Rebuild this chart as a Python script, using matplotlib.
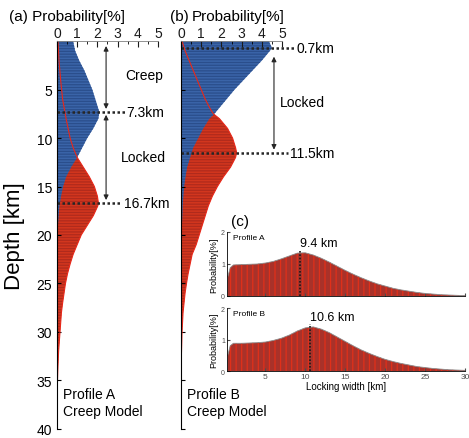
import matplotlib
matplotlib.use("Agg")
import matplotlib.pyplot as plt

plt.rcParams['font.family'] = ['Liberation Sans', 'DejaVu Sans']
plt.rcParams['hatch.linewidth'] = 0.9

# ---- depth profiles: probability [%] vs depth [km] ----
depth_a_blue = [0, 1, 2, 3, 4, 5, 6, 7, 7.3, 8, 9, 10, 11, 12, 13, 14, 15, 16, 17, 18, 19, 20, 22, 25]
prob_a_blue = [0.8, 0.9, 1.1, 1.35, 1.55, 1.75, 1.9, 2.05, 2.1, 2.05, 1.8, 1.5, 1.25, 1.0, 0.7, 0.45, 0.3,
               0.2, 0.12, 0.08, 0.05, 0.03, 0.01, 0.0]
depth_a_red = [0, 2, 4, 6, 8, 10, 11, 12, 13, 14, 15, 16, 16.7, 17, 18, 19, 20, 21, 22, 23, 24, 25, 26, 27,
               28, 30, 32, 34, 36, 40]
prob_a_red = [0.05, 0.1, 0.18, 0.28, 0.45, 0.65, 0.8, 1.0, 1.3, 1.6, 1.85, 2.0, 2.05, 2.02, 1.8, 1.5, 1.2,
              1.0, 0.8, 0.65, 0.52, 0.42, 0.35, 0.28, 0.22, 0.15, 0.08, 0.04, 0.01, 0.0]

depth_b_blue = [0, 0.7, 1, 2, 3, 4, 5, 6, 7, 7.5, 8, 9, 10, 11, 12, 13, 14, 15, 17, 20, 25]
prob_b_blue = [4.35, 4.5, 4.4, 4.0, 3.55, 3.1, 2.65, 2.25, 1.85, 1.65, 1.4, 1.1, 0.85, 0.6, 0.45, 0.3, 0.22,
               0.15, 0.08, 0.03, 0.0]
depth_b_red = [0, 1, 2, 3, 4, 5, 6, 7, 7.5, 8, 9, 10, 11, 11.5, 12, 13, 14, 15, 16, 17, 18, 19, 20, 21, 22,
               23, 24, 25, 26, 28, 30, 33, 40]
prob_b_red = [0.05, 0.2, 0.4, 0.6, 0.8, 1.0, 1.2, 1.45, 1.6, 1.9, 2.3, 2.55, 2.7, 2.75, 2.7, 2.45, 2.1,
              1.8, 1.55, 1.35, 1.2, 1.05, 0.9, 0.75, 0.55, 0.45, 0.35, 0.27, 0.2, 0.1, 0.05, 0.01, 0.0]

# ---- locking width distributions ----
width_km = [0.3, 0.6, 1, 2, 3, 4, 5, 6, 7, 8, 9, 10, 11, 12, 13, 14, 15, 16, 17, 18, 19, 20, 21, 22, 23,
            24, 25, 26, 27, 28, 29, 30]
prob_width_a = [0.6, 0.88, 0.97, 0.98, 0.99, 1.0, 1.03, 1.08, 1.16, 1.25, 1.34, 1.35, 1.28, 1.18, 1.06,
                0.93, 0.8, 0.68, 0.57, 0.47, 0.38, 0.31, 0.24, 0.19, 0.15, 0.11, 0.08, 0.06, 0.04, 0.03,
                0.02, 0.01]
prob_width_b = [0.5, 0.8, 0.88, 0.88, 0.89, 0.9, 0.92, 0.97, 1.04, 1.14, 1.27, 1.37, 1.4, 1.33, 1.22, 1.08,
                0.94, 0.8, 0.67, 0.56, 0.46, 0.37, 0.3, 0.24, 0.19, 0.14, 0.11, 0.08, 0.06, 0.04, 0.03,
                0.02]
peak_a, peak_a_val = 9.4, 1.36
peak_b, peak_b_val = 10.6, 1.41

BLUE, BLUE_H = '#3a64a8', '#2a4e8c'
RED, RED_H = '#d2361e', '#b02a1c'

fig = plt.figure(figsize=(4.69, 4.39), dpi=100)
ax_a = fig.add_axes([0.1215, 0.021, 0.2154, 0.883])
ax_b = fig.add_axes([0.386, 0.021, 0.2154, 0.883])


def depth_panel(ax, d_blue, p_blue, d_red, p_red):
    ax.fill_betweenx(d_red, 0, p_red, facecolor=RED, edgecolor=RED_H, hatch='------', lw=0)
    ax.fill_betweenx(d_blue, 0, p_blue, facecolor=BLUE, edgecolor=BLUE_H, hatch='------', lw=0)
    ax.plot(p_red, d_red, color='#e8281a', lw=0.8)
    ax.set_xlim(0, 5)
    ax.set_ylim(40, 0)
    ax.xaxis.tick_top()
    ax.set_xticks(range(6))
    ax.set_xticks([0.5, 1.5, 2.5, 3.5, 4.5], minor=True)
    ax.set_yticks(range(5, 41, 5))
    ax.tick_params(axis='x', direction='in', length=4, labelsize=10, pad=1, colors='0.1')
    ax.tick_params(axis='x', which='minor', direction='in', length=2, top=True, bottom=False)
    ax.tick_params(axis='y', direction='in', length=3, labelsize=10)
    ax.spines['right'].set_visible(False)
    ax.spines['bottom'].set_visible(False)
    ax.spines['top'].set_color('0.5')
    ax.spines['top'].set_linewidth(0.6)
    ax.spines['left'].set_linewidth(0.8)


def mark(ax, depth, x_end, label):
    ax.plot([0, x_end], [depth, depth], color='0.15', lw=1.8, ls=(0, (1, 1)), clip_on=False)
    ax.text(x_end + 0.1, depth, label, fontsize=10, va='center', ha='left', clip_on=False)


def arrow(ax, x, d0, d1):
    ax.annotate('', xy=(x, d1), xytext=(x, d0),
                arrowprops=dict(arrowstyle='<|-|>', color='0.15', lw=0.8, mutation_scale=7,
                                shrinkA=0, shrinkB=0))


depth_panel(ax_a, depth_a_blue, prob_a_blue, depth_a_red, prob_a_red)
depth_panel(ax_b, depth_b_blue, prob_b_blue, depth_b_red, prob_b_red)
ax_b.set_yticklabels([])

ax_a.set_ylabel('Depth [km]', fontsize=16, labelpad=8)
fig.text(0.02, 0.962, '(a) Probability[%]', fontsize=11, ha='left', va='center')
fig.text(0.363, 0.962, '(b)', fontsize=11, ha='left', va='center')
fig.text(0.408, 0.962, 'Probability[%]', fontsize=11, ha='left', va='center')

mark(ax_a, 7.3, 3.35, '7.3km')
mark(ax_a, 16.7, 3.2, '16.7km')
arrow(ax_a, 2.43, 0.5, 7.0)
arrow(ax_a, 2.43, 7.6, 16.4)
ax_a.text(4.3, 3.5, 'Creep', fontsize=10, ha='center', va='center')
ax_a.text(4.3, 12.0, 'Locked', fontsize=10, ha='center', va='center')
ax_a.text(0.3, 37.3, 'Profile A\nCreep Model', fontsize=10, ha='left', va='center', linespacing=1.3)

mark(ax_b, 0.7, 5.6, '0.7km')
mark(ax_b, 11.5, 5.3, '11.5km')
arrow(ax_b, 4.6, 1.6, 11.2)
ax_b.text(6.0, 6.3, 'Locked', fontsize=10, ha='center', va='center', clip_on=False)
ax_b.text(0.3, 37.3, 'Profile B\nCreep Model', fontsize=10, ha='left', va='center', linespacing=1.3)

# ---- panel (c) ----
ax_c1 = fig.add_axes([0.484, 0.3235, 0.5075, 0.1458])
ax_c2 = fig.add_axes([0.484, 0.1526, 0.5075, 0.1435])

for ax, w, p, pk, pv, lab in [(ax_c1, width_km, prob_width_a, peak_a, peak_a_val, 'Profile A'),
                             (ax_c2, width_km, prob_width_b, peak_b, peak_b_val, 'Profile B')]:
    ax.fill_between(w, 0, p, facecolor='#a8322a', edgecolor='#e0301a', hatch='|||', lw=0)
    ax.plot(w, p, color='0.55', lw=0.6)
    ax.plot([pk, pk], [0, pv + 0.08], color='0.1', lw=1.2, ls=(0, (1, 1)))
    ax.text(pk, pv + 0.12, '%.1f km' % pk, fontsize=9, ha='left', va='bottom')
    ax.text(0.9, 1.95, lab, fontsize=6, ha='left', va='top')
    ax.set_xlim(0.2, 30)
    ax.set_ylim(0, 2)
    ax.set_yticks([0, 1, 2])
    ax.set_xticks([5, 10, 15, 20, 25, 30])
    ax.tick_params(axis='both', direction='in', length=2, labelsize=6, pad=1.5, colors='0.3')
    ax.tick_params(axis='y', labelsize=5)
    ax.set_ylabel('Probability[%]', fontsize=6.5, labelpad=2)
    ax.spines['right'].set_visible(False)
    ax.spines['top'].set_visible(False)
    ax.spines['left'].set_linewidth(0.6)
    ax.spines['bottom'].set_linewidth(0.6)
    ax.patch.set_alpha(0)

ax_c1.set_xticklabels([])
ax_c2.set_xlabel('Locking width [km]', fontsize=7, labelpad=1)
fig.text(0.493, 0.495, '(c)', fontsize=11, ha='left', va='center')

fig.savefig('out.png', dpi=100)
